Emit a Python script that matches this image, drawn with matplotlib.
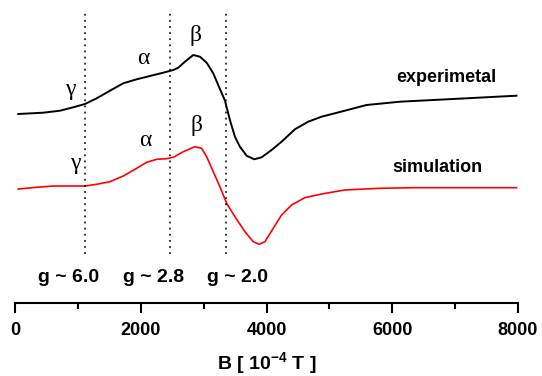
import matplotlib
matplotlib.use("Agg")
import matplotlib.pyplot as plt

plt.rcParams['mathtext.fontset'] = 'custom'
plt.rcParams['mathtext.rm'] = 'Liberation Sans:bold'
plt.rcParams['mathtext.default'] = 'rm'

# EPR spectra: field B in 10^-4 T, intensity in arbitrary units (offset for display)
b_exp = [52, 450, 715, 927, 1113, 1299, 1510, 1722, 1935, 2146, 2358, 2517, 2596, 2703,
         2835, 2941, 3048, 3153, 3259, 3339, 3418, 3498, 3577, 3684, 3804, 3922, 4081,
         4240, 4452, 4663, 4876, 5087, 5246, 5591, 6121, 6650, 7181, 7976]
exp_signal = [186, 187.3, 189.3, 192.7, 196, 201.7, 209.3, 216.7, 220.7, 224, 227.3, 230,
              232.3, 238.3, 245, 243.3, 237.3, 226.7, 211, 199.5, 180, 163.3, 153.3, 144.3,
              140.7, 142.7, 150, 158.3, 170.7, 178.3, 183.3, 186.7, 189.3, 195, 198.3, 200,
              201.7, 204.3]

b_sim = [52, 345, 609, 874, 1113, 1299, 1510, 1722, 1935, 2094, 2253, 2412, 2517, 2676,
         2862, 2968, 3048, 3153, 3259, 3366, 3498, 3657, 3789, 3884, 3975, 4107, 4240,
         4399, 4610, 4876, 5246, 5803, 6332, 7976]
sim_signal = [111, 112.7, 114, 114, 114, 115.7, 118.3, 124, 131.7, 137.7, 140.7, 141.3,
              142.7, 148.3, 153.3, 151.7, 143.3, 128.3, 113.3, 96.7, 83.3, 68.3, 58.3, 55.7,
              58.3, 71.7, 85, 95, 102.3, 106, 110, 111.7, 112.3, 112.3]

# g-value markers
g_fields = [1108, 2467, 3355]
g_labels = ["g ~ 6.0", "g ~ 2.8", "g ~ 2.0"]
g_label_x = [855, 2207, 3542]

# greek labels for the three signals
greek = ["\u03b3", "\u03b1", "\u03b2"]
greek_exp_x = [874, 2040, 2866]
greek_exp_y = [210, 242, 265]
greek_sim_x = [954, 2067, 2888]
greek_sim_y = [137, 160, 175]

fig = plt.figure(figsize=(5.42, 3.76), dpi=100)
ax = fig.add_axes([15 / 542, 73.1 / 376, 503 / 542, 1 - 73.1 / 376])

ax.plot(b_exp, exp_signal, color="black", lw=1.4)
ax.plot(b_sim, sim_signal, color="red", lw=1.2)

ax.vlines(g_fields, 46, 287, colors="black", linestyles=(0, (1.2, 2.8)), lw=1.1)

for x, t in zip(g_label_x, g_labels):
    ax.text(x, 23, t, ha="center", va="center", fontsize=14, fontweight="bold",
            family="Liberation Sans")

for x, y, t in zip(greek_exp_x, greek_exp_y, greek):
    ax.text(x, y, t, ha="center", va="center", fontsize=17, family="Liberation Serif")
for x, y, t in zip(greek_sim_x, greek_sim_y, greek):
    ax.text(x, y, t, ha="center", va="center", fontsize=17, family="Liberation Serif")

ax.text(6852, 222, "experimetal", ha="center", va="center", fontsize=13,
        fontweight="bold", family="Liberation Sans")
ax.text(6725, 132, "simulation", ha="center", va="center", fontsize=13,
        fontweight="bold", family="Liberation Sans")

ax.set_xlim(0, 8000)
ax.set_ylim(-2.9, 300)
for s in ["top", "right", "left"]:
    ax.spines[s].set_visible(False)
ax.spines["bottom"].set_linewidth(1.5)
ax.set_yticks([])
ax.set_xticks([0, 2000, 4000, 6000, 8000])
ax.set_xticks([1000, 3000, 5000, 7000], minor=True)
ax.tick_params(axis="x", which="major", length=7, width=1.5, pad=7)
ax.tick_params(axis="x", which="minor", length=4.5, width=1.5)
for lab in ax.get_xticklabels():
    lab.set_fontsize(13)
    lab.set_fontweight("bold")
    lab.set_family("Liberation Sans")
ax.set_xlabel("B [ 10$^{-4}$ T ]", fontsize=14, fontweight="bold",
              family="Liberation Sans", labelpad=8)
ax.patch.set_alpha(0)

fig.savefig("out.png", dpi=100)
